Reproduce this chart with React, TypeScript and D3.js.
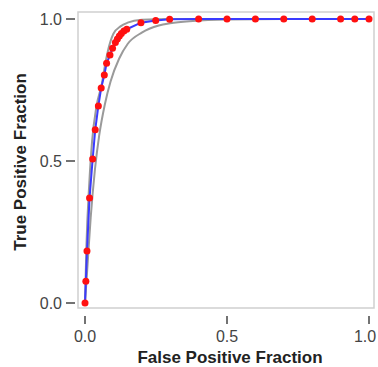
import { useEffect, useRef } from "react"
import * as d3 from "d3"

// ROC points (false positive fraction, true positive fraction)
const fpr = [0, 0.003, 0.007, 0.016, 0.027, 0.036, 0.047, 0.057, 0.068, 0.076, 0.088, 0.097, 0.107, 0.114, 0.121, 0.128, 0.137, 0.147, 0.197, 0.249, 0.298, 0.4, 0.5, 0.6, 0.7, 0.8, 0.9, 0.95, 1.0]
const tpr = [0, 0.077, 0.183, 0.37, 0.507, 0.61, 0.694, 0.757, 0.803, 0.844, 0.873, 0.897, 0.917, 0.93, 0.94, 0.949, 0.958, 0.964, 0.987, 0.995, 0.999, 1, 1, 1, 1, 1, 1, 1, 1]

// confidence band (upper / lower curves)
const upperX = [0, 0.005, 0.015, 0.025, 0.04, 0.06, 0.07, 0.08, 0.09, 0.1, 0.125, 0.15, 0.2, 0.3, 1.0]
const upperY = [0, 0.2, 0.42, 0.57, 0.69, 0.775, 0.835, 0.885, 0.922, 0.948, 0.974, 0.987, 0.997, 1, 1]
const lowerX = [0, 0.01, 0.02, 0.035, 0.05, 0.07, 0.09, 0.12, 0.15, 0.2, 0.26, 0.3, 0.38, 0.5, 0.7, 1.0]
const lowerY = [0, 0.15, 0.3, 0.47, 0.59, 0.7, 0.78, 0.86, 0.912, 0.952, 0.977, 0.985, 0.993, 0.998, 1, 1]

const ticks = [0, 0.5, 1.0]

export default function App() {
  const svgRef = useRef<SVGSVGElement>(null)

  useEffect(() => {
    if (!svgRef.current) return
    const svg = d3.select(svgRef.current)
    svg.selectAll("*").remove()

    const x = d3.scaleLinear().domain([0, 1]).range([85, 369])
    const y = d3.scaleLinear().domain([0, 1]).range([303, 19])

    // plot frame
    svg.append("rect")
      .attr("x", 78).attr("y", 12).attr("width", 296).attr("height", 296)
      .attr("fill", "none").attr("stroke", "#cfcfcf").attr("stroke-width", 1.5)

    const smooth = d3.line<[number, number]>()
      .x((d) => x(d[0]))
      .y((d) => y(d[1]))
      .curve(d3.curveMonotoneX)

    // 신뢰구간 곡선
    const bands = [
      upperX.map((v, i) => [v, upperY[i]] as [number, number]),
      lowerX.map((v, i) => [v, lowerY[i]] as [number, number]),
    ]
    bands.forEach((b) => {
      svg.append("path").datum(b)
        .attr("fill", "none").attr("stroke", "#9a9a9a").attr("stroke-width", 2)
        .attr("d", smooth)
    })

    const roc = fpr.map((v, i) => [v, tpr[i]] as [number, number])
    svg.append("path").datum(roc)
      .attr("fill", "none").attr("stroke", "#3a3aff").attr("stroke-width", 2)
      .attr("d", d3.line<[number, number]>().x((d) => x(d[0])).y((d) => y(d[1])))

    svg.append("g").selectAll("circle").data(roc).join("circle")
      .attr("cx", (d) => x(d[0])).attr("cy", (d) => y(d[1])).attr("r", 3.5)
      .attr("fill", "#ff1010")

    // axes
    const xAxis = svg.append("g")
    ticks.forEach((t) => {
      xAxis.append("line").attr("x1", x(t)).attr("x2", x(t)).attr("y1", 316).attr("y2", 324)
        .attr("stroke", "#444").attr("stroke-width", 1.5)
      xAxis.append("text").attr("x", Math.min(x(t), 365)).attr("y", 342).attr("text-anchor", "middle")
        .style("font-family", "Liberation Sans, Arial, sans-serif").style("font-size", "16px").attr("fill", "#444")
        .text(d3.format(".1f")(t))
    })
    const yAxis = svg.append("g")
    ticks.forEach((t) => {
      yAxis.append("line").attr("x1", 66).attr("x2", 75).attr("y1", y(t)).attr("y2", y(t))
        .attr("stroke", "#444").attr("stroke-width", 1.5)
      yAxis.append("text").attr("x", 62).attr("y", y(t) + 5.5).attr("text-anchor", "end")
        .style("font-family", "Liberation Sans, Arial, sans-serif").style("font-size", "16px").attr("fill", "#444")
        .text(d3.format(".1f")(t))
    })

    svg.append("text").attr("x", 230).attr("y", 363).attr("text-anchor", "middle")
      .style("font-family", "Liberation Sans, Arial, sans-serif").style("font-size", "17px").style("font-weight", "bold")
      .attr("fill", "#222").text("False Positive Fraction")

    svg.append("text").attr("transform", "translate(26,162) rotate(-90)").attr("text-anchor", "middle")
      .style("font-family", "Liberation Sans, Arial, sans-serif").style("font-size", "17px").style("font-weight", "bold")
      .attr("fill", "#222").text("True Positive Fraction")
  }, [])

  return <svg ref={svgRef} width={378} height={367} style={{ position: "absolute", left: 0, top: 0, background: "#fff" }} />
}
